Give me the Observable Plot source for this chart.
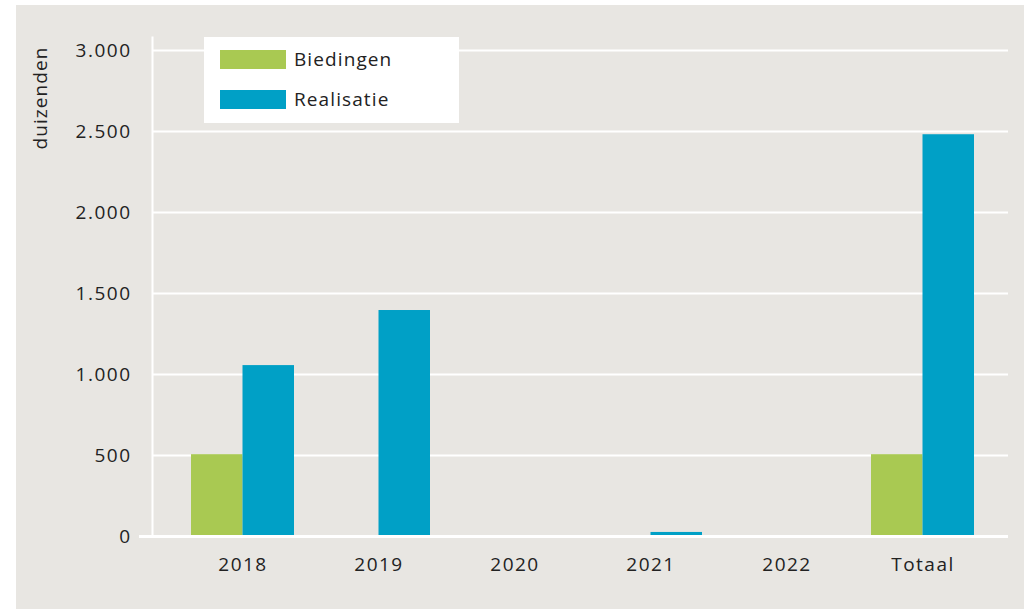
<!DOCTYPE html>
<html><head><meta charset="utf-8">
<script src="https://cdn.jsdelivr.net/npm/d3@7"></script>
<script src="https://cdn.jsdelivr.net/npm/@observablehq/plot@0.6"></script>
<style>
body{margin:0;background:#fff;font-family:"Open Sans",Lato,sans-serif;}
#panel{position:absolute;left:16px;top:5px;width:1008px;height:604px;background:#e8e6e2;overflow:hidden;}
#chart{position:absolute;left:0;top:0;}
#ylabel{position:absolute;left:24px;top:93px;transform:translate(-50%,-50%) rotate(-90deg);font-size:19px;letter-spacing:1.1px;color:#222;white-space:nowrap;}
#legend{position:absolute;left:188px;top:32px;width:255px;height:86px;background:#fff;}
.item{position:absolute;left:16px;height:20px;display:flex;align-items:center;font-size:19px;letter-spacing:1.1px;color:#222;}
.sw{width:66px;height:19px;margin-right:8px;}
</style></head><body>
<div id="panel"><div id="chart"></div><div id="ylabel">duizenden</div><div id="legend"></div></div>
<script>
const categories = ["2018","2019","2020","2021","2022","Totaal"];
const biedingen = [505, 0, 0, 0, 0, 505];
const realisatie = [1055, 1395, 0, 25, 0, 2480];
const yTicks = [0, 500, 1000, 1500, 2000, 2500, 3000];
const yTickLabels = ["0", "500", "1.000", "1.500", "2.000", "2.500", "3.000"];
const seriesNames = ["Biedingen", "Realisatie"];
const seriesColors = ["#a9c952", "#00a0c6"];

const table = categories.map((c, i) => ({category: c, biedingen: biedingen[i], realisatie: realisatie[i]}));
const half = 51.5;

const chart = Plot.plot({
  width: 1008,
  height: 604,
  marginLeft: 136,
  marginRight: 16,
  marginTop: 45,
  marginBottom: 73,
  style: {background: "transparent", fontFamily: "'Open Sans', Lato, sans-serif", fontSize: "19px", letterSpacing: "1.5px", color: "#222"},
  x: {type: "band", domain: categories, range: [174, 958], paddingInner: 0.243, paddingOuter: 0},
  y: {domain: [0, 3000]},
  marks: [
    Plot.ruleY(yTicks.slice(1), {stroke: "#fff", strokeWidth: 2}),
    Plot.frame({anchor: "left", stroke: "#fff", strokeWidth: 2, insetTop: -13}),
    Plot.barY(table, {x: "category", y: "biedingen", fill: seriesColors[0], insetRight: half}),
    Plot.barY(table, {x: "category", y: "realisatie", fill: seriesColors[1], insetLeft: half}),
    Plot.ruleY([0], {stroke: "#fff", strokeWidth: 3, insetLeft: -13}),
    Plot.axisY(yTicks, {tickSize: 0, tickPadding: 21, fontSize: 19, label: null,
      tickFormat: d => yTickLabels[yTicks.indexOf(d)]}),
    Plot.axisX({tickSize: 0, tickPadding: 21, fontSize: 19, label: null})
  ]
});
document.getElementById("chart").appendChild(chart);

const legend = document.getElementById("legend");
seriesNames.forEach((name, i) => {
  const it = document.createElement("div");
  it.className = "item";
  it.style.top = (12 + i * 40) + "px";
  it.innerHTML = `<div class="sw" style="background:${seriesColors[i]}"></div><span>${name}</span>`;
  legend.appendChild(it);
});
</script>
</body></html>
